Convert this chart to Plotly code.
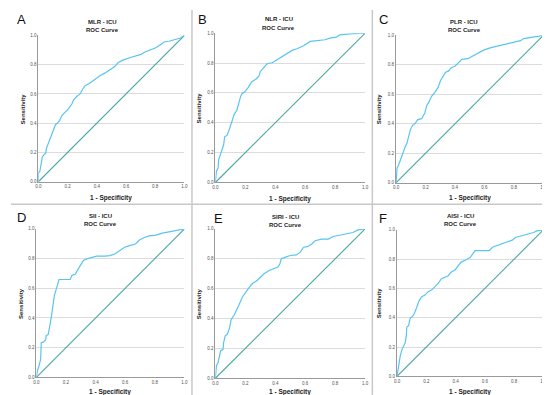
import plotly.graph_objects as go

W, H = 550, 395

panel_letters = ["A", "B", "C", "D", "E", "F"]
panel_titles = ["MLR - ICU", "NLR - ICU", "PLR - ICU", "SII - ICU", "SIRI - ICU", "AISI - ICU"]
subtitle = "ROC Curve"
x_title = "1 - Specificity"
y_title = "Sensitivity"
tick_vals = [0.0, 0.2, 0.4, 0.6, 0.8, 1.0]
tick_text = ["0.0", "0.2", "0.4", "0.6", "0.8", "1.0"]

# ROC curves: (1 - specificity, sensitivity)
mlr_fpr = [0, 0, 0.01, 0.02, 0.027, 0.038, 0.05, 0.056, 0.072, 0.083, 0.095, 0.106, 0.117, 0.128, 0.146, 0.162,
           0.185, 0.207, 0.23, 0.241, 0.264, 0.286, 0.304, 0.32, 0.354, 0.387, 0.421, 0.455, 0.489, 0.523, 0.545,
           0.579, 0.624, 0.669, 0.703, 0.725, 0.759, 0.804, 0.838, 0.86, 0.894, 0.939, 0.973, 1.0]
mlr_tpr = [0, 0.06, 0.07, 0.12, 0.17, 0.184, 0.196, 0.23, 0.274, 0.297, 0.33, 0.364, 0.39, 0.398, 0.42, 0.454,
           0.476, 0.5, 0.533, 0.56, 0.584, 0.6, 0.634, 0.656, 0.674, 0.701, 0.724, 0.742, 0.762, 0.787, 0.813,
           0.831, 0.847, 0.858, 0.87, 0.885, 0.899, 0.915, 0.937, 0.955, 0.96, 0.971, 0.982, 1.0]

nlr_fpr = [0, 0.007, 0.018, 0.022, 0.033, 0.044, 0.055, 0.062, 0.079, 0.095, 0.105, 0.116, 0.127, 0.143, 0.154,
           0.167, 0.176, 0.193, 0.22, 0.242, 0.27, 0.292, 0.299, 0.321, 0.347, 0.38, 0.413, 0.446, 0.479, 0.512,
           0.545, 0.589, 0.633, 0.688, 0.732, 0.765, 0.809, 0.831, 0.897, 1.0]
nlr_tpr = [0, 0.075, 0.097, 0.152, 0.185, 0.218, 0.251, 0.306, 0.317, 0.361, 0.394, 0.438, 0.46, 0.482, 0.526,
           0.57, 0.593, 0.604, 0.637, 0.674, 0.692, 0.714, 0.742, 0.769, 0.797, 0.802, 0.824, 0.846, 0.863, 0.885,
           0.896, 0.916, 0.945, 0.949, 0.956, 0.967, 0.974, 0.989, 0.996, 1.0]

plr_fpr = [0, 0.007, 0.018, 0.029, 0.04, 0.051, 0.063, 0.074, 0.085, 0.096, 0.112, 0.129, 0.147, 0.174, 0.196,
           0.208, 0.223, 0.241, 0.263, 0.286, 0.301, 0.319, 0.335, 0.357, 0.375, 0.402, 0.424, 0.446, 0.487, 0.52,
           0.554, 0.594, 0.638, 0.688, 0.743, 0.799, 0.844, 0.866, 0.933, 1.0]
plr_tpr = [0, 0.1, 0.123, 0.156, 0.19, 0.208, 0.246, 0.268, 0.324, 0.357, 0.39, 0.402, 0.429, 0.435, 0.475,
           0.525, 0.547, 0.587, 0.614, 0.647, 0.692, 0.721, 0.748, 0.759, 0.781, 0.792, 0.815, 0.837, 0.842, 0.859,
           0.882, 0.9, 0.915, 0.926, 0.938, 0.953, 0.964, 0.978, 0.989, 1.0]

sii_fpr = [0, 0.007, 0.018, 0.029, 0.033, 0.047, 0.062, 0.067, 0.08, 0.089, 0.1, 0.111, 0.122, 0.136, 0.144,
           0.153, 0.184, 0.229, 0.24, 0.262, 0.284, 0.3, 0.318, 0.34, 0.373, 0.407, 0.462, 0.496, 0.529, 0.562,
           0.596, 0.629, 0.669, 0.696, 0.729, 0.762, 0.807, 0.851, 0.896, 1.0]
sii_tpr = [0, 0.044, 0.078, 0.122, 0.233, 0.237, 0.251, 0.282, 0.288, 0.333, 0.4, 0.477, 0.554, 0.599, 0.636,
           0.659, 0.659, 0.659, 0.687, 0.694, 0.732, 0.758, 0.787, 0.798, 0.809, 0.816, 0.816, 0.82, 0.831, 0.854,
           0.876, 0.887, 0.898, 0.925, 0.942, 0.953, 0.958, 0.971, 0.98, 1.0]

siri_fpr = [0, 0.007, 0.018, 0.029, 0.035, 0.051, 0.055, 0.066, 0.079, 0.095, 0.105, 0.127, 0.145, 0.167, 0.182,
            0.204, 0.226, 0.248, 0.281, 0.303, 0.325, 0.358, 0.387, 0.418, 0.431, 0.44, 0.468, 0.501, 0.541, 0.567,
            0.589, 0.615, 0.644, 0.666, 0.71, 0.754, 0.787, 0.831, 0.875, 0.919, 0.952, 1.0]
siri_tpr = [0, 0.084, 0.106, 0.15, 0.183, 0.194, 0.238, 0.286, 0.293, 0.337, 0.392, 0.425, 0.469, 0.513, 0.546,
            0.579, 0.608, 0.634, 0.656, 0.678, 0.7, 0.722, 0.733, 0.744, 0.767, 0.8, 0.811, 0.822, 0.826, 0.844,
            0.877, 0.881, 0.899, 0.921, 0.932, 0.932, 0.949, 0.958, 0.969, 0.976, 0.993, 1.0]

aisi_fpr = [0, 0.011, 0.022, 0.034, 0.045, 0.056, 0.063, 0.067, 0.079, 0.09, 0.106, 0.119, 0.135, 0.151, 0.169,
            0.191, 0.213, 0.236, 0.258, 0.281, 0.303, 0.326, 0.348, 0.371, 0.398, 0.42, 0.438, 0.472, 0.501, 0.517,
            0.533, 0.573, 0.629, 0.652, 0.685, 0.719, 0.753, 0.787, 0.809, 0.854, 0.899, 0.933, 0.955, 1.0]
aisi_tpr = [0, 0.072, 0.139, 0.184, 0.202, 0.229, 0.274, 0.337, 0.346, 0.398, 0.409, 0.431, 0.472, 0.517, 0.544,
            0.555, 0.578, 0.589, 0.611, 0.634, 0.667, 0.679, 0.685, 0.712, 0.728, 0.757, 0.78, 0.796, 0.813, 0.836,
            0.858, 0.858, 0.858, 0.881, 0.892, 0.903, 0.915, 0.93, 0.948, 0.96, 0.971, 0.982, 0.993, 1.0]

ref_line = [0.0, 1.0]

curves = [(mlr_fpr, mlr_tpr), (nlr_fpr, nlr_tpr), (plr_fpr, plr_tpr),
          (sii_fpr, sii_tpr), (siri_fpr, siri_tpr), (aisi_fpr, aisi_tpr)]

# plot-area pixel boxes (left, right, top, bottom)
boxes = [(27.7, 175.7, 25.7, 174.0), (207.0, 358.7, 23.5, 174.7), (390.0, 539.3, 25.7, 175.0),
         (25.7, 175.7, 221.7, 372.0), (207.0, 358.7, 221.7, 373.0), (391.0, 539.3, 222.7, 371.0)]
letter_pos = [(11, 10), (194, 9.5), (377, 10), (11, 210), (210, 211), (377, 211)]
title_x = [93, 271, 459, 91, 278, 455]
title_y = [(11.7, 20.3), (9.5, 18.5), (11.7, 20.7), (208.5, 217), (209.5, 217.7), (208.7, 217)]
xtitle_y = [190.3, 191, 190.7, 386.8, 387.2, 387]
ytitle_x = [12, 190, 373, 10, 190, 373]

def px(x):
    return x / W

def py(y):
    return 1 - y / H

CURVE = "#58C4F2"
DIAG = "#4AA5A3"
FONT = "Liberation Sans"

fig = go.Figure()
layout = {}
annotations = []
for i, ((fx, fy), (l, r, t, b)) in enumerate(zip(curves, boxes)):
    n = "" if i == 0 else str(i + 1)
    fig.add_trace(go.Scatter(x=ref_line, y=ref_line, mode="lines", line=dict(color=DIAG, width=1.1),
                             xaxis="x" + n, yaxis="y" + n, showlegend=False, hoverinfo="skip"))
    fig.add_trace(go.Scatter(x=fx, y=fy, mode="lines", line=dict(color=CURVE, width=1.2),
                             xaxis="x" + n, yaxis="y" + n, showlegend=False))
    layout["xaxis" + n] = dict(domain=[px(l), px(r)], range=[0, 1], anchor="y" + n,
                               tickvals=tick_vals, ticktext=tick_text, showgrid=False, zeroline=False,
                               showline=True, linecolor="#9a9a9a", linewidth=1, ticks="",
                               tickfont=dict(size=4.5, color="#555", family=FONT), fixedrange=True)
    layout["yaxis" + n] = dict(domain=[py(b), py(t)], range=[0, 1], anchor="x" + n,
                               tickvals=tick_vals, ticktext=tick_text, showgrid=True, gridcolor="#dcdcdc",
                               gridwidth=1, zeroline=False, showline=True, linecolor="#9a9a9a", linewidth=1,
                               ticks="", tickfont=dict(size=4.5, color="#555", family=FONT), fixedrange=True)
    cx = (l + r) / 2
    cy = (t + b) / 2
    annotations.append(dict(text=panel_letters[i], x=px(letter_pos[i][0]), y=py(letter_pos[i][1]),
                            xref="paper", yref="paper", showarrow=False, xanchor="center", yanchor="middle",
                            font=dict(size=13, color="#111", family=FONT)))
    annotations.append(dict(text="<b>" + panel_titles[i] + "</b>", x=px(title_x[i]), y=py(title_y[i][0]),
                            xref="paper", yref="paper", showarrow=False, xanchor="center", yanchor="middle",
                            font=dict(size=6, color="#222", family=FONT)))
    annotations.append(dict(text="<b>" + subtitle + "</b>", x=px(title_x[i]), y=py(title_y[i][1]),
                            xref="paper", yref="paper", showarrow=False, xanchor="center", yanchor="middle",
                            font=dict(size=6, color="#222", family=FONT)))
    annotations.append(dict(text="<b>" + x_title + "</b>", x=px(cx), y=py(xtitle_y[i]),
                            xref="paper", yref="paper", showarrow=False, xanchor="center", yanchor="middle",
                            font=dict(size=6.5, color="#222", family=FONT)))
    annotations.append(dict(text="<b>" + y_title + "</b>", x=px(ytitle_x[i]), y=py(cy),
                            xref="paper", yref="paper", showarrow=False, xanchor="center", yanchor="middle",
                            textangle=-90, font=dict(size=6, color="#222", family=FONT)))

shapes = [
    dict(type="line", xref="paper", yref="paper", x0=px(183.3), x1=px(183.3), y0=0, y1=1,
         line=dict(color="#c8c8c8", width=1.5)),
    dict(type="line", xref="paper", yref="paper", x0=px(366), x1=px(366), y0=0, y1=1,
         line=dict(color="#c8c8c8", width=1.5)),
    dict(type="line", xref="paper", yref="paper", x0=0, x1=1, y0=py(196.7), y1=py(196.7),
         line=dict(color="#c8c8c8", width=1.5)),
]

fig.update_layout(width=W, height=H, margin=dict(l=0, r=0, t=0, b=0), paper_bgcolor="white",
                  plot_bgcolor="white", annotations=annotations, shapes=shapes,
                  font=dict(family=FONT), **layout)
fig.write_html("out.html")
